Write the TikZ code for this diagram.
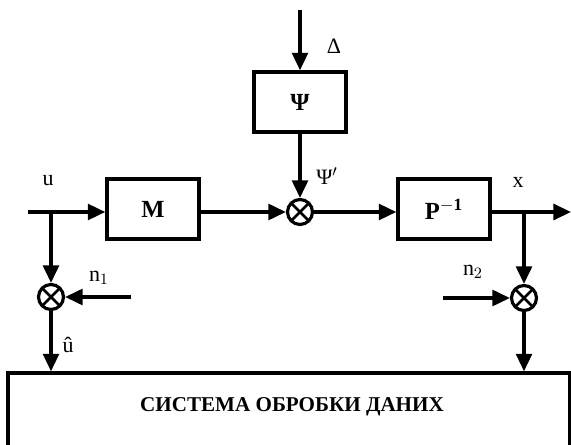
\documentclass[tikz,border=0pt]{standalone}
\usepackage{fontspec}
\setmainfont{Liberation Serif}
\usetikzlibrary{arrows.meta}
\tikzset{
  blk/.style={draw, line width=1.9pt, minimum width=1.84cm, minimum height=1.2cm,
    font=\bfseries\fontsize{14}{16}\selectfont},
  mult/.style={draw, circle, line width=1.8pt, minimum size=0.5cm, inner sep=0pt,
    path picture={
      \draw[line width=1.5pt] (path picture bounding box.south west) -- (path picture bounding box.north east)
        (path picture bounding box.north west) -- (path picture bounding box.south east);}},
  sig/.style={line width=1.9pt, -{Triangle[length=10pt,width=9pt]}},
  lbl/.style={inner sep=0pt}
}
\begin{document}
\begin{tikzpicture}[x=0.02cm, y=-0.02cm, font=\fontsize{12.5}{14}\selectfont]
  \useasboundingbox (0,0) rectangle (571,445);
  % Blocks
  \node[blk] (psi) at (300,102) {Ψ};
  \node[blk] (M) at (153,209) {M};
  \node[blk] (P) at (444,209) {P$^{\mathbf{-1}}$};
  % Multipliers
  \node[mult] (m0) at (300,212) {};
  \node[mult] (m1) at (51,297) {};
  \node[mult] (m2) at (524,298) {};
  % Data processing system
  \node[draw, line width=1.9pt, minimum width=11.24cm, minimum height=1.94cm] (proc) at (289,421.5) {};
  \node[font=\bfseries\fontsize{12}{14}\selectfont] (title) at (292,407) {СИСТЕМА ОБРОБКИ ДАНИХ};
  % Free ends and branch points
  \coordinate (d) at (300,10);
  \coordinate (in) at (28,212);
  \coordinate (bu) at (51,212);
  \coordinate (out) at (571,212);
  \coordinate (bx) at (524,212);
  \coordinate (n1) at (131,297);
  \coordinate (n2) at (443,298);
  % Labels
  \node[lbl] (lD) at (334,46) {Δ};
  \node[lbl] (lPs) at (327,176) {Ψ$'$};
  \node[lbl] (lu) at (48,181) {u};
  \node[lbl] (lx) at (518,182) {x};
  \node[lbl] (ln1) at (99,278) {n$_1$};
  \node[lbl] (ln2) at (473,272) {n$_2$};
  \node[lbl] (luh) at (68,345) {û};
  % Connectors
  \draw[sig] (d) -- (psi.north);
  \draw[sig] (psi.south) -- (m0.north);
  \draw[sig] (in) -- (M.west |- in);
  \draw[sig] (M.east |- m0) -- (m0.west);
  \draw[sig] (m0.east) -- (P.west |- m0);
  \draw[sig] (P.east |- out) -- (out);
  \draw[sig] (bu) -- (m1.north);
  \draw[sig] (bx) -- (m2.north);
  \draw[sig] (n1) -- (m1.east);
  \draw[sig] (n2) -- (m2.west);
  \draw[sig] (m1.south) -- (m1 |- proc.north);
  \draw[sig] (m2.south) -- (m2 |- proc.north);
\end{tikzpicture}
\end{document}
